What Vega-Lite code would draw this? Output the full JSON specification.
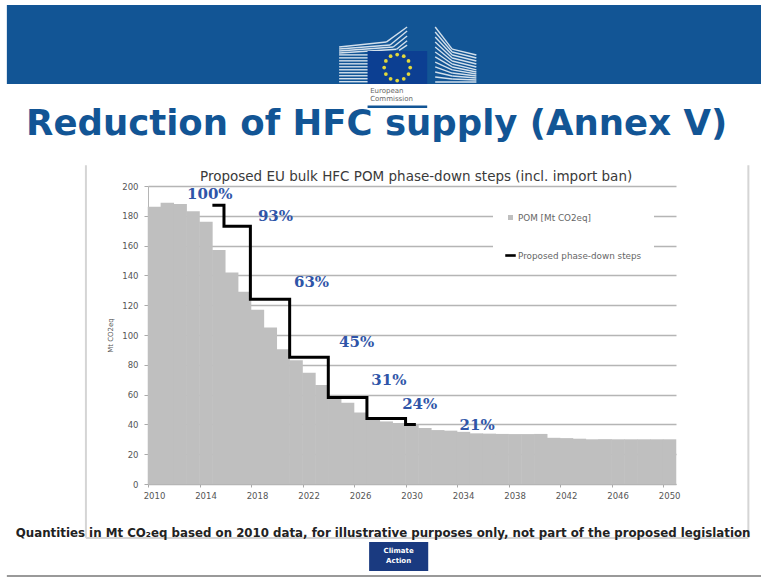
{"$schema":"https://vega.github.io/schema/vega-lite/v6.json","width":528,"height":298,"autosize":{"type":"none"},"padding":{"left":148,"top":186,"right":85,"bottom":94},"background":"white",
"config":{"view":{"stroke":null}},
"layer":[
{"data":{"values":[{}]},"mark":{"type":"rect","color":"#125595"},"encoding":{
"x":{"datum":1998.54,"type":"quantitative","scale":{"domain":[2009.5,2050.5],"nice":false,"zero":false,"padding":0},"axis":{"values":[2009.5,2011.5,2013.5,2015.5,2017.5,2019.5,2021.5,2023.5,2025.5,2027.5,2029.5,2031.5,2033.5,2035.5,2037.5,2039.5,2041.5,2043.5,2045.5,2047.5,2049.5],"labelExpr":"(datum.value+0.5-2010)%4==0?format(datum.value+0.5,'d'):''","labelOffset":6,"labelOverlap":false,"labelFlush":false,"labelFontSize":8.5,"labelFont":"DejaVu Sans","labelColor":"#555555","labelPadding":4,"tickColor":"#aaaaaa","tickSize":3,"domainColor":"#b5b5b5","grid":false,"title":null}},
"x2":{"datum":2057.2},
"y":{"datum":321.5,"type":"quantitative","scale":{"domain":[0,200],"nice":false},"axis":{"tickCount":11,"labelOverlap":false,"labelFlush":false,"labelFontSize":8.5,"labelFont":"DejaVu Sans","labelColor":"#555555","labelPadding":6,"tickColor":"#aaaaaa","tickSize":4,"domainColor":"#b5b5b5","grid":true,"gridColor":"#b5b5b5","gridWidth":1.3,"title":"Mt CO2eq","titleFontSize":7,"titleFont":"DejaVu Sans","titleFontWeight":"normal","titleColor":"#555555","titlePadding":8}},
"y2":{"datum":268.5}}},
{"data":{"values":[
{"a":2024.34,"b":288,"c":2026.6,"d":288},{"a":2024.34,"b":286,"c":2026.6,"d":286},{"a":2024.34,"b":284,"c":2026.6,"d":284},{"a":2024.34,"b":282,"c":2026.6,"d":282},{"a":2024.34,"b":280,"c":2026.6,"d":280},{"a":2024.34,"b":278,"c":2026.6,"d":278},{"a":2024.34,"b":276,"c":2026.6,"d":276},{"a":2024.34,"b":274,"c":2026.6,"d":274},{"a":2024.34,"b":272,"c":2026.6,"d":272},{"a":2024.34,"b":270,"c":2026.6,"d":270},
{"a":2024.34,"b":293.3,"c":2028.0,"d":296.6},{"a":2028.0,"b":296.6,"c":2029.62,"d":306.7},
{"a":2024.34,"b":291.9,"c":2028.3,"d":294.6},{"a":2028.3,"b":294.6,"c":2029.62,"d":304},
{"a":2024.34,"b":290.6,"c":2028.54,"d":293.3},{"a":2028.54,"b":293.3,"c":2029.62,"d":300.7},
{"a":2024.34,"b":289.3,"c":2028.8,"d":291.8},{"a":2028.8,"b":291.8,"c":2029.62,"d":297.5},{"a":2029.0,"b":291,"c":2029.62,"d":294.5},
{"a":2031.8,"b":306.7,"c":2033.12,"d":291.9},{"a":2033.12,"b":291.9,"c":2035,"d":287.9},
{"a":2031.8,"b":303.4,"c":2033.12,"d":289.9},{"a":2033.12,"b":289.9,"c":2035,"d":285.9},
{"a":2031.8,"b":300,"c":2033.12,"d":287.9},{"a":2033.12,"b":287.9,"c":2035,"d":283.9},
{"a":2031.8,"b":296.6,"c":2033.12,"d":285.9},{"a":2033.12,"b":285.9,"c":2035,"d":281.9},
{"a":2031.8,"b":293.3,"c":2033.12,"d":283.9},{"a":2033.12,"b":283.9,"c":2035,"d":279.9},
{"a":2031.8,"b":289.9,"c":2033.12,"d":281.9},{"a":2033.12,"b":281.9,"c":2035,"d":277.9},
{"a":2031.8,"b":286.6,"c":2033.12,"d":279.9},{"a":2033.12,"b":279.9,"c":2035,"d":276.5},
{"a":2031.8,"b":283.2,"c":2033.12,"d":277.9},{"a":2033.12,"b":277.9,"c":2035,"d":275.2},
{"a":2031.8,"b":279.9,"c":2033.12,"d":275.8},{"a":2033.12,"b":275.8,"c":2035,"d":273.8},
{"a":2031.8,"b":276.5,"c":2033.12,"d":273.8},{"a":2033.12,"b":273.8,"c":2035,"d":272.5},
{"a":2031.8,"b":273.2,"c":2033.12,"d":271.8},{"a":2033.12,"b":271.8,"c":2035,"d":271.1},
{"a":2031.8,"b":269.8,"c":2035,"d":269.8}
]},"mark":{"type":"rule","color":"#d3e0ec","strokeWidth":1.4},"encoding":{"x":{"field":"a","type":"quantitative"},"y":{"field":"b","type":"quantitative"},"x2":{"field":"c"},"y2":{"field":"d"}}},
{"data":{"values":[{}]},"mark":{"type":"rect","color":"#0c3f92"},"encoding":{"x":{"datum":2026.55,"type":"quantitative"},"x2":{"datum":2031.18},"y":{"datum":290.6,"type":"quantitative"},"y2":{"datum":268.5}}},
{"data":{"values":[{}]},"mark":{"type":"rect","color":"#125595"},"encoding":{"x":{"datum":2026.55,"type":"quantitative"},"x2":{"datum":2031.18},"y":{"datum":254,"type":"quantitative"},"y2":{"datum":252.3}}},
{"data":{"values":[{"x":2028.85,"y":288.2},{"x":2029.36,"y":287.1},{"x":2029.73,"y":283.9},{"x":2029.86,"y":279.5},{"x":2029.73,"y":275.1},{"x":2029.36,"y":271.9},{"x":2028.85,"y":270.8},{"x":2028.34,"y":271.9},{"x":2027.97,"y":275.1},{"x":2027.84,"y":279.5},{"x":2027.97,"y":283.9},{"x":2028.34,"y":287.1}]},"mark":{"type":"point","filled":true,"shape":"circle","size":14,"color":"#e3d93c","opacity":1},"encoding":{"x":{"field":"x","type":"quantitative"},"y":{"field":"y","type":"quantitative"}}},
{"data":{"values":[{"t":"European","y":263.8},{"t":"Commission","y":258.4}]},"mark":{"type":"text","align":"left","baseline":"middle","font":"DejaVu Sans","fontSize":7,"color":"#666666"},"encoding":{"x":{"datum":2026.75,"type":"quantitative"},"y":{"field":"y","type":"quantitative"},"text":{"field":"t"}}},
{"data":{"values":[{"t":"Reduction of HFC supply (Annex V)"}]},"mark":{"type":"text","align":"center","baseline":"middle","font":"DejaVu Sans","fontWeight":"bold","fontSize":35.5,"color":"#125595"},"encoding":{"x":{"datum":2027.25,"type":"quantitative"},"y":{"datum":241.6,"type":"quantitative"},"text":{"field":"t"}}},
{"data":{"values":[{"t":"Proposed EU bulk HFC POM phase-down steps (incl. import ban)"}]},"mark":{"type":"text","align":"center","baseline":"middle","font":"DejaVu Sans","fontSize":13.5,"color":"#3a3a3a"},"encoding":{"x":{"datum":2030.32,"type":"quantitative"},"y":{"datum":206,"type":"quantitative"},"text":{"field":"t"}}},
{"data":{"values":[{"a":2004.68,"b":214,"c":2004.68,"d":-36.2},{"a":2056.12,"b":214,"c":2056.12,"d":-36.2},{"a":2004.68,"b":-36.2,"c":2056.12,"d":-36.2}]},"mark":{"type":"rule","color":"#d5d5d5","strokeWidth":2},"encoding":{"x":{"field":"a","type":"quantitative"},"y":{"field":"b","type":"quantitative"},"x2":{"field":"c"},"y2":{"field":"d"}}},
{"data":{"values":[{"year":2010,"pom":186,"series":"POM  [Mt CO2eq]"},{"year":2011,"pom":188.8,"series":"POM  [Mt CO2eq]"},{"year":2012,"pom":188,"series":"POM  [Mt CO2eq]"},{"year":2013,"pom":183,"series":"POM  [Mt CO2eq]"},{"year":2014,"pom":176,"series":"POM  [Mt CO2eq]"},{"year":2015,"pom":157,"series":"POM  [Mt CO2eq]"},{"year":2016,"pom":142,"series":"POM  [Mt CO2eq]"},{"year":2017,"pom":129,"series":"POM  [Mt CO2eq]"},{"year":2018,"pom":117,"series":"POM  [Mt CO2eq]"},{"year":2019,"pom":105,"series":"POM  [Mt CO2eq]"},{"year":2020,"pom":90.4,"series":"POM  [Mt CO2eq]"},{"year":2021,"pom":83,"series":"POM  [Mt CO2eq]"},{"year":2022,"pom":74.7,"series":"POM  [Mt CO2eq]"},{"year":2023,"pom":66.4,"series":"POM  [Mt CO2eq]"},{"year":2024,"pom":58.6,"series":"POM  [Mt CO2eq]"},{"year":2025,"pom":54.6,"series":"POM  [Mt CO2eq]"},{"year":2026,"pom":48,"series":"POM  [Mt CO2eq]"},{"year":2027,"pom":44,"series":"POM  [Mt CO2eq]"},{"year":2028,"pom":42,"series":"POM  [Mt CO2eq]"},{"year":2029,"pom":41,"series":"POM  [Mt CO2eq]"},{"year":2030,"pom":40,"series":"POM  [Mt CO2eq]"},{"year":2031,"pom":37.6,"series":"POM  [Mt CO2eq]"},{"year":2032,"pom":36.2,"series":"POM  [Mt CO2eq]"},{"year":2033,"pom":35.8,"series":"POM  [Mt CO2eq]"},{"year":2034,"pom":35,"series":"POM  [Mt CO2eq]"},{"year":2035,"pom":34,"series":"POM  [Mt CO2eq]"},{"year":2036,"pom":33.8,"series":"POM  [Mt CO2eq]"},{"year":2037,"pom":33.6,"series":"POM  [Mt CO2eq]"},{"year":2038,"pom":33.5,"series":"POM  [Mt CO2eq]"},{"year":2039,"pom":33.5,"series":"POM  [Mt CO2eq]"},{"year":2040,"pom":33.6,"series":"POM  [Mt CO2eq]"},{"year":2041,"pom":31,"series":"POM  [Mt CO2eq]"},{"year":2042,"pom":30.8,"series":"POM  [Mt CO2eq]"},{"year":2043,"pom":30.4,"series":"POM  [Mt CO2eq]"},{"year":2044,"pom":30,"series":"POM  [Mt CO2eq]"},{"year":2045,"pom":30.1,"series":"POM  [Mt CO2eq]"},{"year":2046,"pom":30,"series":"POM  [Mt CO2eq]"},{"year":2047,"pom":30,"series":"POM  [Mt CO2eq]"},{"year":2048,"pom":30,"series":"POM  [Mt CO2eq]"},{"year":2049,"pom":30,"series":"POM  [Mt CO2eq]"},{"year":2050,"pom":30,"series":"POM  [Mt CO2eq]"}]},
"mark":{"type":"bar","orient":"vertical","size":13.4},"encoding":{"x":{"field":"year","type":"quantitative"},"y":{"field":"pom","type":"quantitative","stack":null},
"color":{"field":"series","type":"nominal","scale":{"domain":["POM  [Mt CO2eq]","Proposed phase-down steps"],"range":["#bfbfbf","#000000"]},"legend":{"title":null,"orient":"none","legendX":345,"legendY":14,"fillColor":"white","padding":12,"rowPadding":27,"symbolStrokeWidth":0,"labelFont":"DejaVu Sans","labelFontSize":8.8,"labelColor":"#666666","labelOffset":2,"encode":{"symbols":{"update":{"shape":{"signal":"datum.value=='POM  [Mt CO2eq]'?'square':'M-1,-0.25H1V0.25H-1Z'"},"size":{"signal":"datum.value=='POM  [Mt CO2eq]'?25:110"},"fill":{"signal":"datum.value=='POM  [Mt CO2eq]'?'#bfbfbf':'#000000'"}}}}}}}},
{"data":{"values":[{"x":2014.5,"y":187,"series":"Proposed phase-down steps"},{"x":2015.4,"y":173,"series":"Proposed phase-down steps"},{"x":2017.45,"y":124,"series":"Proposed phase-down steps"},{"x":2020.5,"y":85,"series":"Proposed phase-down steps"},{"x":2023.5,"y":58,"series":"Proposed phase-down steps"},{"x":2026.5,"y":44,"series":"Proposed phase-down steps"},{"x":2029.5,"y":40,"series":"Proposed phase-down steps"},{"x":2030.3,"y":40,"series":"Proposed phase-down steps"}]},
"mark":{"type":"line","interpolate":"step-after","strokeWidth":3},"encoding":{"x":{"field":"x","type":"quantitative"},"y":{"field":"y","type":"quantitative"},"color":{"field":"series","type":"nominal"}}},
{"data":{"values":[{"x":2014.3,"y":194.6,"t":"100%"},{"x":2019.4,"y":179.9,"t":"93%"},{"x":2022.2,"y":135.6,"t":"63%"},{"x":2025.7,"y":95.5,"t":"45%"},{"x":2028.2,"y":69.5,"t":"31%"},{"x":2030.6,"y":54,"t":"24%"},{"x":2035.06,"y":39.6,"t":"21%"}]},
"mark":{"type":"text","font":"DejaVu Serif","fontWeight":"bold","fontSize":15,"color":"#2f55a8","align":"center","baseline":"middle"},"encoding":{"x":{"field":"x","type":"quantitative"},"y":{"field":"y","type":"quantitative"},"text":{"field":"t"}}},
{"data":{"values":[{"t":"Quantities in Mt CO₂eq based on 2010 data, for illustrative purposes only, not part of the proposed legislation"}]},"mark":{"type":"text","align":"center","baseline":"middle","font":"DejaVu Sans","fontWeight":"bold","fontSize":11.8,"color":"#222222"},"encoding":{"x":{"datum":2027.76,"type":"quantitative"},"y":{"datum":-32.9,"type":"quantitative"},"text":{"field":"t"}}},
{"data":{"values":[{}]},"mark":{"type":"rect","color":"#1a3a80"},"encoding":{"x":{"datum":2026.67,"type":"quantitative"},"x2":{"datum":2031.26},"y":{"datum":-38.9,"type":"quantitative"},"y2":{"datum":-58.4}}},
{"data":{"values":[{"t":"Climate","y":-45},{"t":"Action","y":-51.7}]},"mark":{"type":"text","align":"center","baseline":"middle","font":"DejaVu Sans","fontWeight":"bold","fontSize":7,"color":"white"},"encoding":{"x":{"datum":2028.96,"type":"quantitative"},"y":{"field":"y","type":"quantitative"},"text":{"field":"t"}}},
{"data":{"values":[{}]},"mark":{"type":"rule","color":"#777777","strokeWidth":1.5},"encoding":{"x":{"datum":1998.54,"type":"quantitative"},"x2":{"datum":2057.2},"y":{"datum":-61.7,"type":"quantitative"}}}
]}
